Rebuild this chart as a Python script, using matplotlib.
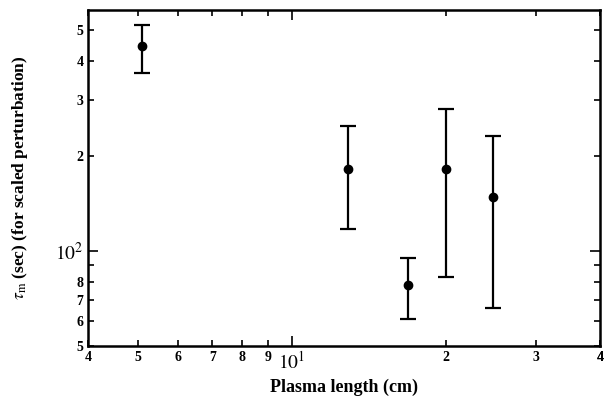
import matplotlib
matplotlib.use("Agg")
import matplotlib.pyplot as plt
from matplotlib.ticker import FixedLocator, FuncFormatter
import numpy as np

plasma_length = [5.1, 12.9, 16.9, 20.0, 24.7]
tau_m = [445, 182, 78, 182, 148]
tau_upper = [519, 249, 95, 281, 231]
tau_lower = [366, 117, 61, 83, 66]

x_minor_labels = {4: "4", 5: "5", 6: "6", 7: "7", 8: "8", 9: "9", 20: "2", 30: "3", 40: "4"}
y_minor_labels = {50: "5", 60: "6", 70: "7", 80: "8", 200: "2", 300: "3", 400: "4", 500: "5"}

plt.rcParams['font.family'] = ['Liberation Serif', 'DejaVu Serif']
plt.rcParams['mathtext.fontset'] = 'stix'

fig = plt.figure(figsize=(6.12, 4.03), dpi=100)
ax = fig.add_axes([0.144, 0.141, 0.836, 0.834])

yerr = [np.array(tau_m) - np.array(tau_lower), np.array(tau_upper) - np.array(tau_m)]
ax.errorbar(plasma_length, tau_m, yerr=yerr, fmt='o', color='black', ms=6,
            elinewidth=1.6, capsize=6, capthick=1.6)

ax.set_xscale('log')
ax.set_yscale('log')
ax.set_xlim(4, 40)
ax.set_ylim(50, 578)

ax.xaxis.set_major_locator(FixedLocator([10]))
ax.xaxis.set_major_formatter(FuncFormatter(lambda v, p: r"$10^1$"))
xm = [v for d in (1, 10) for v in np.arange(2, 10) * d if 4 <= v <= 40 and v != 10] + [40]
ax.xaxis.set_minor_locator(FixedLocator(xm))
ax.xaxis.set_minor_formatter(FuncFormatter(lambda v, p: x_minor_labels.get(int(round(v)), "")))

ax.yaxis.set_major_locator(FixedLocator([100]))
ax.yaxis.set_major_formatter(FuncFormatter(lambda v, p: r"$10^2$"))
ym = [v for d in (10, 100) for v in np.arange(2, 10) * d if 50 <= v <= 578 and v != 100]
ax.yaxis.set_minor_locator(FixedLocator(ym))
ax.yaxis.set_minor_formatter(FuncFormatter(lambda v, p: y_minor_labels.get(int(round(v)), "")))

ax.tick_params(which='both', direction='in', top=True, right=True, width=1.2)
ax.tick_params(which='major', length=7, labelsize=14)
ax.tick_params(which='minor', length=4, labelsize=10)
for lab in ax.get_xticklabels(minor=True) + ax.get_yticklabels(minor=True):
    lab.set_fontweight('bold')

for s in ax.spines.values():
    s.set_linewidth(1.8)

ax.set_xlabel("Plasma length (cm)", fontsize=13, fontweight='bold', labelpad=4)
ax.set_ylabel(r"$\tau_{\rm m}$ (sec) (for scaled perturbation)", fontsize=12.5, fontweight='bold', labelpad=18)

fig.savefig("out.png", dpi=100)
